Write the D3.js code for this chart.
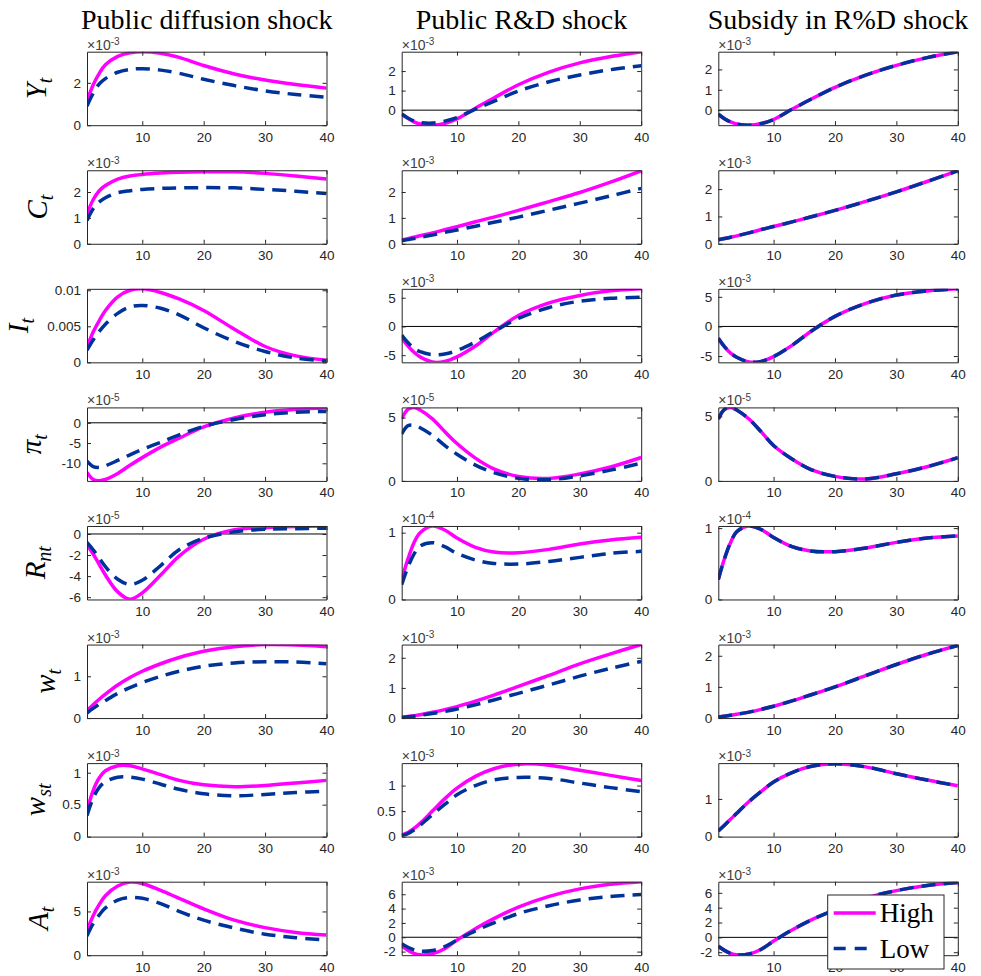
<!DOCTYPE html>
<html>
<head>
<meta charset="utf-8">
<script src="https://cdn.jsdelivr.net/npm/d3@7"></script>
<style>
  body { margin: 0; background: #fff; }
  svg { display: block; }
</style>
</head>
<body>
<div id="chart"></div>
<script>
const periods = [1, 2, 3, 4, 6, 8, 10, 13, 16, 20, 25, 30, 35, 40];
const shocks = ['Public diffusion shock', 'Public R&D shock', 'Subsidy in R%D shock'];
const xTicks = [10, 20, 30, 40];

// variable labels (base letter, subscript)
const varBase = ['Y', 'C', 'I', 'π', 'R', 'w', 'w', 'A'];
const varSub = ['t', 't', 't', 't', 'nt', 't', 'st', 't'];

// axis exponent per row / shock (null = plain numbers)
const exponents = [
  [-3, -3, -3], [-3, -3, -3], [null, -3, -3], [-5, -5, -5],
  [-5, -4, -4], [-3, -3, -3], [-3, -3, -3], [-3, -3, -3]
];

// y limits in displayed units
const yLimits = [
  [[0, 3.47], [-0.77, 2.99], [-0.74, 2.87]],
  [[0, 2.84], [0, 2.84], [0, 2.69]],
  [[0, 0.0102], [-6.25, 6.55], [-6.06, 6.35]],
  [[-14.35, 3.8], [0, 5.8], [0, 5.7]],
  [[-6.22, 0.76], [0, 1.1], [0, 1.03]],
  [[0, 1.76], [0, 2.44], [0, 2.36]],
  [[0, 1.15], [0, 1.44], [0, 1.95]],
  [[0, 8.4], [-2.5, 7.75], [-2.4, 7.5]]
];

const yTicks = [
  [[0, 2], [0, 1, 2], [0, 1, 2]],
  [[0, 1, 2], [0, 1, 2], [0, 1, 2]],
  [[0, 0.005, 0.01], [-5, 0, 5], [-5, 0, 5]],
  [[-10, -5, 0], [0, 5], [0, 5]],
  [[-6, -4, -2, 0], [0, 1], [0, 1]],
  [[0, 1], [0, 1, 2], [0, 1, 2]],
  [[0, 0.5, 1], [0, 0.5, 1], [0, 1]],
  [[0, 5], [-2, 0, 2, 4, 6], [-2, 0, 2, 4, 6]]
];

// responses, one array per shock, "High" and "Low"
const yHigh = [
  [1.15, 1.9, 2.45, 2.85, 3.25, 3.42, 3.47, 3.4, 3.2, 2.82, 2.42, 2.13, 1.92, 1.75],
  [-0.2, -0.42, -0.6, -0.71, -0.77, -0.68, -0.45, 0.1, 0.62, 1.3, 1.95, 2.42, 2.74, 2.99],
  [-0.2, -0.42, -0.58, -0.68, -0.74, -0.66, -0.46, 0.04, 0.52, 1.12, 1.72, 2.2, 2.58, 2.87]
];
const yLow = [
  [0.9, 1.5, 1.95, 2.2, 2.5, 2.63, 2.67, 2.6, 2.45, 2.17, 1.87, 1.62, 1.45, 1.32],
  [-0.2, -0.4, -0.55, -0.63, -0.66, -0.56, -0.38, 0.05, 0.45, 0.98, 1.45, 1.8, 2.07, 2.27],
  [-0.2, -0.42, -0.58, -0.68, -0.74, -0.66, -0.46, 0.04, 0.52, 1.12, 1.72, 2.2, 2.58, 2.87]
];
const cHigh = [
  [1.15, 1.7, 2.05, 2.25, 2.5, 2.62, 2.68, 2.73, 2.76, 2.78, 2.78, 2.72, 2.62, 2.5],
  [0.15, 0.2, 0.25, 0.31, 0.42, 0.54, 0.66, 0.85, 1.03, 1.29, 1.63, 1.98, 2.38, 2.82],
  [0.15, 0.19, 0.24, 0.29, 0.4, 0.52, 0.63, 0.8, 0.98, 1.22, 1.55, 1.9, 2.28, 2.67]
];
const cLow = [
  [0.9, 1.35, 1.62, 1.78, 1.97, 2.05, 2.1, 2.14, 2.16, 2.17, 2.16, 2.1, 2.03, 1.94],
  [0.12, 0.16, 0.2, 0.25, 0.34, 0.44, 0.53, 0.68, 0.83, 1.03, 1.3, 1.57, 1.85, 2.14],
  [0.15, 0.19, 0.24, 0.29, 0.4, 0.52, 0.63, 0.8, 0.98, 1.22, 1.55, 1.9, 2.28, 2.67]
];
const iHigh = [
  [0.0021, 0.0042, 0.0058, 0.0072, 0.0091, 0.01, 0.0102, 0.0097, 0.0088, 0.0072, 0.0046, 0.0022, 0.0009, 0.0003],
  [-2.0, -3.4, -4.5, -5.3, -6.2, -6.1, -5.3, -3.4, -1.0, 1.9, 4.1, 5.4, 6.2, 6.55],
  [-2.0, -3.4, -4.5, -5.2, -6.0, -5.9, -5.1, -3.2, -0.9, 1.7, 3.9, 5.3, 6.0, 6.35]
];
const iLow = [
  [0.0017, 0.0031, 0.0043, 0.0053, 0.0068, 0.0077, 0.0079, 0.0075, 0.0066, 0.0048, 0.0029, 0.0015, 0.0006, 0.0002],
  [-1.5, -2.8, -3.8, -4.4, -4.9, -4.8, -4.2, -2.7, -0.9, 1.4, 3.3, 4.4, 4.9, 5.1],
  [-2.0, -3.4, -4.5, -5.2, -6.0, -5.9, -5.1, -3.2, -0.9, 1.7, 3.9, 5.3, 6.0, 6.35]
];
const piHigh = [
  [-12.3, -14.0, -14.3, -14.0, -12.5, -10.5, -8.6, -6.0, -3.8, -1.0, 1.2, 2.6, 3.3, 3.7],
  [4.9, 5.65, 5.8, 5.6, 4.9, 3.9, 2.95, 1.8, 0.95, 0.35, 0.2, 0.55, 1.1, 1.85],
  [4.8, 5.55, 5.7, 5.5, 4.8, 3.8, 2.75, 1.7, 0.9, 0.35, 0.15, 0.55, 1.1, 1.8]
];
const piLow = [
  [-9.5, -10.8, -11.0, -10.6, -9.3, -7.9, -6.6, -4.8, -3.0, -0.9, 0.8, 2.0, 2.6, 2.8],
  [3.7, 4.35, 4.4, 4.2, 3.6, 2.8, 2.1, 1.25, 0.65, 0.2, 0.1, 0.4, 0.85, 1.4],
  [4.8, 5.55, 5.7, 5.5, 4.8, 3.8, 2.75, 1.7, 0.9, 0.35, 0.15, 0.55, 1.1, 1.8]
];
const rHigh = [
  [-1.0, -1.9, -2.9, -3.9, -5.5, -6.2, -5.6, -3.9, -2.1, -0.5, 0.4, 0.6, 0.7, 0.75],
  [0.3, 0.6, 0.85, 1.0, 1.1, 1.04, 0.92, 0.78, 0.71, 0.7, 0.75, 0.83, 0.89, 0.93],
  [0.28, 0.57, 0.8, 0.95, 1.03, 0.98, 0.87, 0.74, 0.68, 0.67, 0.72, 0.8, 0.86, 0.89]
];
const rLow = [
  [-0.8, -1.5, -2.3, -3.1, -4.3, -4.8, -4.4, -3.0, -1.5, -0.4, 0.2, 0.45, 0.5, 0.55],
  [0.22, 0.48, 0.68, 0.8, 0.85, 0.79, 0.69, 0.59, 0.54, 0.53, 0.57, 0.63, 0.69, 0.72],
  [0.28, 0.57, 0.8, 0.95, 1.03, 0.98, 0.87, 0.74, 0.68, 0.67, 0.72, 0.8, 0.86, 0.89]
];
const wHigh = [
  [0.18, 0.32, 0.45, 0.57, 0.79, 0.97, 1.12, 1.3, 1.45, 1.6, 1.71, 1.76, 1.75, 1.71],
  [0.02, 0.05, 0.08, 0.11, 0.19, 0.28, 0.38, 0.56, 0.76, 1.05, 1.42, 1.8, 2.13, 2.44],
  [0.03, 0.06, 0.09, 0.12, 0.19, 0.28, 0.38, 0.55, 0.74, 1.0, 1.36, 1.72, 2.05, 2.33]
];
const wLow = [
  [0.12, 0.23, 0.33, 0.42, 0.59, 0.73, 0.85, 1.0, 1.12, 1.24, 1.32, 1.35, 1.34, 1.3],
  [0.02, 0.04, 0.06, 0.09, 0.15, 0.22, 0.3, 0.44, 0.6, 0.82, 1.1, 1.39, 1.65, 1.88],
  [0.03, 0.06, 0.09, 0.12, 0.19, 0.28, 0.38, 0.55, 0.74, 1.0, 1.36, 1.72, 2.05, 2.33]
];
const wsHigh = [
  [0.4, 0.72, 0.92, 1.03, 1.11, 1.11, 1.06, 0.97, 0.88, 0.81, 0.78, 0.8, 0.84, 0.88],
  [0.03, 0.08, 0.16, 0.26, 0.5, 0.74, 0.95, 1.18, 1.33, 1.42, 1.4, 1.3, 1.2, 1.1],
  [0.15, 0.3, 0.46, 0.62, 0.93, 1.2, 1.45, 1.7, 1.86, 1.93, 1.85, 1.67, 1.5, 1.35]
];
const wsLow = [
  [0.33, 0.6, 0.77, 0.86, 0.93, 0.93, 0.9, 0.82, 0.74, 0.67, 0.64, 0.66, 0.69, 0.71],
  [0.02, 0.06, 0.13, 0.22, 0.43, 0.63, 0.82, 1.0, 1.11, 1.16, 1.14, 1.05, 0.96, 0.88],
  [0.15, 0.3, 0.46, 0.62, 0.93, 1.2, 1.45, 1.7, 1.86, 1.93, 1.85, 1.67, 1.5, 1.35]
];
const aHigh = [
  [2.8, 4.5, 5.8, 6.8, 7.9, 8.35, 8.2, 7.4, 6.5, 5.3, 4.0, 3.15, 2.6, 2.3],
  [-1.2, -1.8, -2.25, -2.45, -2.3, -1.6, -0.4, 1.2, 2.6, 4.2, 5.7, 6.75, 7.4, 7.75],
  [-1.2, -1.75, -2.15, -2.35, -2.25, -1.6, -0.5, 1.0, 2.3, 3.7, 5.3, 6.3, 7.0, 7.4]
];
const aLow = [
  [2.2, 3.6, 4.6, 5.4, 6.3, 6.6, 6.5, 5.9, 5.0, 4.0, 3.1, 2.4, 2.0, 1.75],
  [-0.9, -1.4, -1.75, -1.95, -1.85, -1.3, -0.4, 0.9, 2.0, 3.3, 4.4, 5.2, 5.7, 5.95],
  [-1.2, -1.75, -2.15, -2.35, -2.25, -1.6, -0.5, 1.0, 2.3, 3.7, 5.3, 6.3, 7.0, 7.4]
];

const highSeries = [yHigh, cHigh, iHigh, piHigh, rHigh, wHigh, wsHigh, aHigh];
const lowSeries = [yLow, cLow, iLow, piLow, rLow, wLow, wsLow, aLow];

const highColor = '#ff00ff';
const lowColor = '#003399';
const axisColor = '#262626';
const tickFont = '"Liberation Sans", Arial, sans-serif';
const serifFont = '"Liberation Serif", "Times New Roman", serif';

const svg = d3.select('#chart').append('svg')
  .attr('width', 981)
  .attr('height', 976);

const colLeft = [87, 401.7, 718.3];
const plotW = 239.5;
const plotH = 73.5;
const rowTop = r => 51.7 + r * 118.57;
// ylabel sits left of the widest tick label, so it moves per row
const labelX = [46, 47, 28, 41, 45, 55, 45, 48];

// column titles
shocks.forEach((s, c) => {
  svg.append('text')
    .attr('x', colLeft[c] + plotW / 2)
    .attr('y', 29)
    .attr('text-anchor', 'middle')
    .style('font-family', serifFont)
    .style('font-size', '28px')
    .attr('fill', '#000')
    .text(s);
});

const x = d3.scaleLinear().domain([1, 40]).range([0, plotW]);

highSeries.forEach((rowHigh, r) => {
  shocks.forEach((s, c) => {
    const g = svg.append('g')
      .attr('transform', 'translate(' + colLeft[c] + ',' + rowTop(r) + ')');
    const y = d3.scaleLinear().domain(yLimits[r][c]).range([plotH, 0]);

    const clipId = 'clip-' + r + '-' + c;
    g.append('clipPath').attr('id', clipId)
      .append('rect').attr('width', plotW).attr('height', plotH);

    const plot = g.append('g').attr('clip-path', 'url(#' + clipId + ')');

    if (yLimits[r][c][0] < 0) {
      plot.append('line')
        .attr('x1', 0).attr('x2', plotW)
        .attr('y1', y(0)).attr('y2', y(0))
        .attr('stroke', '#000')
        .attr('stroke-width', 1);
    }

    const line = d3.line()
      .x((d, i) => x(periods[i]))
      .y(d => y(d))
      .curve(d3.curveCatmullRom.alpha(0.5));

    plot.append('path')
      .attr('d', line(rowHigh[c]))
      .attr('fill', 'none')
      .attr('stroke', highColor)
      .attr('stroke-width', 3.5);

    plot.append('path')
      .attr('d', line(lowSeries[r][c]))
      .attr('fill', 'none')
      .attr('stroke', lowColor)
      .attr('stroke-width', 3.5)
      .attr('stroke-dasharray', '14,8');

    // axes, ticks pointing inward on all four sides
    const xAxis = g.append('g').attr('transform', 'translate(0,' + plotH + ')')
      .call(d3.axisBottom(x).tickValues(xTicks).tickSizeInner(-4).tickSizeOuter(0).tickPadding(7));
    const topAxis = g.append('g')
      .call(d3.axisTop(x).tickValues(xTicks).tickSizeInner(-4).tickSizeOuter(0).tickFormat(''));
    const yAxis = g.append('g')
      .call(d3.axisLeft(y).tickValues(yTicks[r][c]).tickSizeInner(-4).tickSizeOuter(0)
        .tickPadding(6).tickFormat(d => String(d)));
    const rightAxis = g.append('g').attr('transform', 'translate(' + plotW + ',0)')
      .call(d3.axisRight(y).tickValues(yTicks[r][c]).tickSizeInner(-4).tickSizeOuter(0).tickFormat(''));

    [xAxis, topAxis, yAxis, rightAxis].forEach(a => {
      a.select('.domain').attr('stroke', axisColor);
      a.selectAll('.tick line').attr('stroke', axisColor);
      a.selectAll('.tick text')
        .attr('fill', axisColor)
        .style('font-family', tickFont)
        .style('font-size', '13.5px');
    });

    if (exponents[r][c] !== null) {
      const ex = g.append('text')
        .attr('x', 0)
        .attr('y', -2)
        .attr('fill', '#404040')
        .style('font-family', tickFont)
        .style('font-size', '14px');
      ex.append('tspan').text('×10');
      ex.append('tspan')
        .attr('dy', -4.5)
        .style('font-size', '10px')
        .text(String(exponents[r][c]));
    }

    if (c === 0) {
      const lbl = g.append('text')
        .attr('transform', 'translate(' + (labelX[r] - colLeft[0]) + ',' + (plotH / 2) + ') rotate(-90)')
        .attr('text-anchor', 'middle')
        .attr('fill', '#000')
        .style('font-family', serifFont)
        .style('font-style', 'italic')
        .style('font-size', '29px');
      lbl.append('tspan').text(varBase[r]);
      lbl.append('tspan')
        .attr('dy', 6)
        .style('font-size', '20px')
        .text(varSub[r]);
    }
  });
});

// legend in the last panel
const legend = svg.append('g').attr('transform', 'translate(827.7,895)');
legend.append('rect')
  .attr('width', 116.3)
  .attr('height', 74)
  .attr('fill', '#fff')
  .attr('stroke', axisColor)
  .attr('stroke-width', 1);
const legendItems = [
  {label: 'High', color: highColor, dash: null},
  {label: 'Low', color: lowColor, dash: '12,9'}
];
legendItems.forEach((d, i) => {
  const yy = 18 + i * 35.5;
  legend.append('line')
    .attr('x1', 6).attr('x2', 48)
    .attr('y1', yy).attr('y2', yy)
    .attr('stroke', d.color)
    .attr('stroke-width', 3.5)
    .attr('stroke-dasharray', d.dash);
  legend.append('text')
    .attr('x', 52)
    .attr('y', yy + 9)
    .attr('fill', '#000')
    .style('font-family', serifFont)
    .style('font-size', '27px')
    .text(d.label);
});
</script>
</body>
</html>
